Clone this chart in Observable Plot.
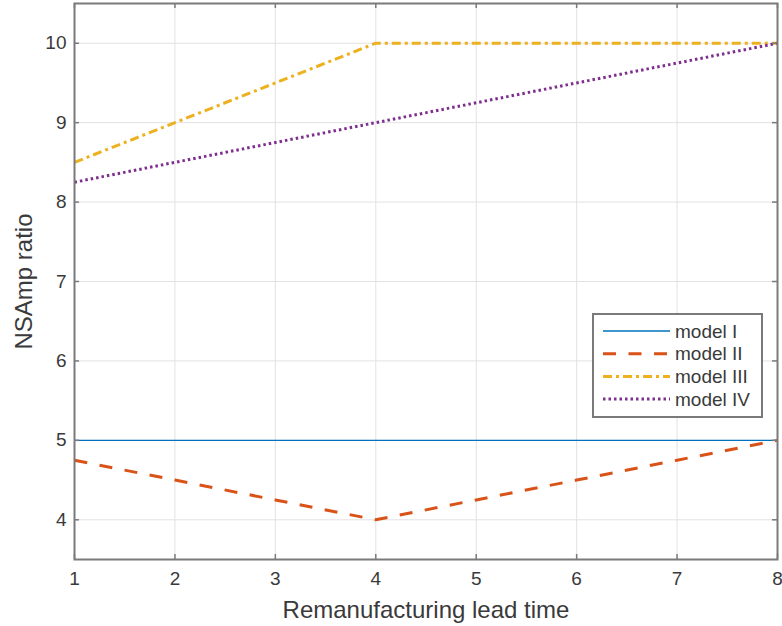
<!DOCTYPE html>
<html>
<head>
<meta charset="utf-8">
<script src="https://cdn.jsdelivr.net/npm/d3@7"></script>
<script src="https://cdn.jsdelivr.net/npm/@observablehq/plot@0.6"></script>
<style>
  html, body { margin: 0; padding: 0; background: #fff; }
  #wrap { position: relative; width: 782px; height: 626px; overflow: hidden; }
  #legend { position: absolute; left: 592px; top: 313px; }
</style>
</head>
<body>
<div id="wrap"></div>
<script>
// ---- data ----
const leadTimes = [1, 2, 3, 4, 5, 6, 7, 8];
const modelI   = [5, 5, 5, 5, 5, 5, 5, 5];
const modelII  = [4.75, 4.5, 4.25, 4, 4.25, 4.5, 4.75, 5];
const modelIII = [8.5, 9, 9.5, 10, 10, 10, 10, 10];
const modelIV  = [8.25, 8.5, 8.75, 9, 9.25, 9.5, 9.75, 10];
const seriesNames = ["model I", "model II", "model III", "model IV"];
const xTicks = [1, 2, 3, 4, 5, 6, 7, 8];
const yTicks = [4, 5, 6, 7, 8, 9, 10];
const xLabel = "Remanufacturing lead time";
const yLabel = "NSAmp ratio";

// ---- styles ----
const colors = ["#0072BD", "#D95319", "#EDB120", "#7E2F8E"];
const widths = [1.4, 3, 3, 3];
const dashes = [null, "13,12.5", "9,4,3,4", "2.5,3"];

const allSeries = [modelI, modelII, modelIII, modelIV];
const rows = [];
allSeries.forEach((vals, s) => vals.forEach((v, i) => rows.push({x: leadTimes[i], y: v, series: seriesNames[s]})));

const W = 782, H = 626, mL = 74, mR = 5, mT = 3, mB = 67;
const pw = W - mL - mR, ph = H - mT - mB;
const axisColor = "#7a7a7a";
const textColor = "#3a3a3a";
const tickLen = 5;
const fmt = d3.format("d");

const lineMarks = seriesNames.map((name, s) => Plot.line(rows.filter(r => r.series === name), {
  x: "x", y: "y", stroke: colors[s], strokeWidth: widths[s],
  strokeDasharray: dashes[s] || undefined, strokeLinecap: "butt", strokeLinejoin: "round"
}));

const chart = Plot.plot({
  width: W, height: H,
  marginLeft: mL, marginRight: mR, marginTop: mT, marginBottom: mB,
  x: {domain: [1, 8]},
  y: {domain: [3.5, 10.5]},
  style: {fontFamily: "'Liberation Sans', Arial, Helvetica, sans-serif", background: "white", overflow: "visible"},
  marks: [
    Plot.gridX(xTicks, {stroke: "#e2e2e2", strokeOpacity: 1, strokeWidth: 1}),
    Plot.gridY(yTicks, {stroke: "#e2e2e2", strokeOpacity: 1, strokeWidth: 1}),
    Plot.axisX(xTicks, {tickSize: 0, tickPadding: 12, fontSize: 19, fill: textColor, label: null, tickFormat: fmt}),
    Plot.axisY(yTicks, {tickSize: 0, tickPadding: 8, fontSize: 19, fill: textColor, label: null, tickFormat: fmt}),
    ...lineMarks,
    // inward ticks on all four sides
    Plot.ruleX(xTicks, {x: d => d, insetTop: ph - tickLen, stroke: axisColor, strokeWidth: 1.5}),
    Plot.ruleX(xTicks, {x: d => d, insetBottom: ph - tickLen, stroke: axisColor, strokeWidth: 1.5}),
    Plot.ruleY(yTicks, {y: d => d, insetRight: pw - tickLen, stroke: axisColor, strokeWidth: 1.5}),
    Plot.ruleY(yTicks, {y: d => d, insetLeft: pw - tickLen, stroke: axisColor, strokeWidth: 1.5}),
    Plot.frame({stroke: axisColor, strokeWidth: 2}),
    Plot.text([xLabel], {text: d => d, frameAnchor: "bottom", dy: 58, lineAnchor: "bottom", textAnchor: "middle", fontSize: 24, fill: textColor}),
    Plot.text([yLabel], {text: d => d, frameAnchor: "left", dx: -50, rotate: -90, textAnchor: "middle", lineAnchor: "middle", fontSize: 24, fill: textColor})
  ]
});

const wrap = document.getElementById("wrap");
wrap.appendChild(chart);

// ---- legend (overlay) ----
const lg = d3.select(wrap).append("svg").attr("id", "legend")
  .attr("width", 172).attr("height", 106)
  .style("font-family", "'Liberation Sans', Arial, Helvetica, sans-serif");
lg.append("rect").attr("x", 1).attr("y", 1).attr("width", 169).attr("height", 103)
  .attr("fill", "white").attr("stroke", axisColor).attr("stroke-width", 2);
const rowY = [18, 40.7, 63.4, 86.1];
seriesNames.forEach((name, s) => {
  lg.append("line").attr("x1", 11).attr("x2", 78).attr("y1", rowY[s]).attr("y2", rowY[s])
    .attr("stroke", colors[s]).attr("stroke-width", widths[s])
    .attr("stroke-dasharray", dashes[s]);
  lg.append("text").attr("x", 83).attr("y", rowY[s]).attr("dy", "0.35em")
    .attr("font-size", 19).attr("fill", textColor).text(name);
});
</script>
</body>
</html>
